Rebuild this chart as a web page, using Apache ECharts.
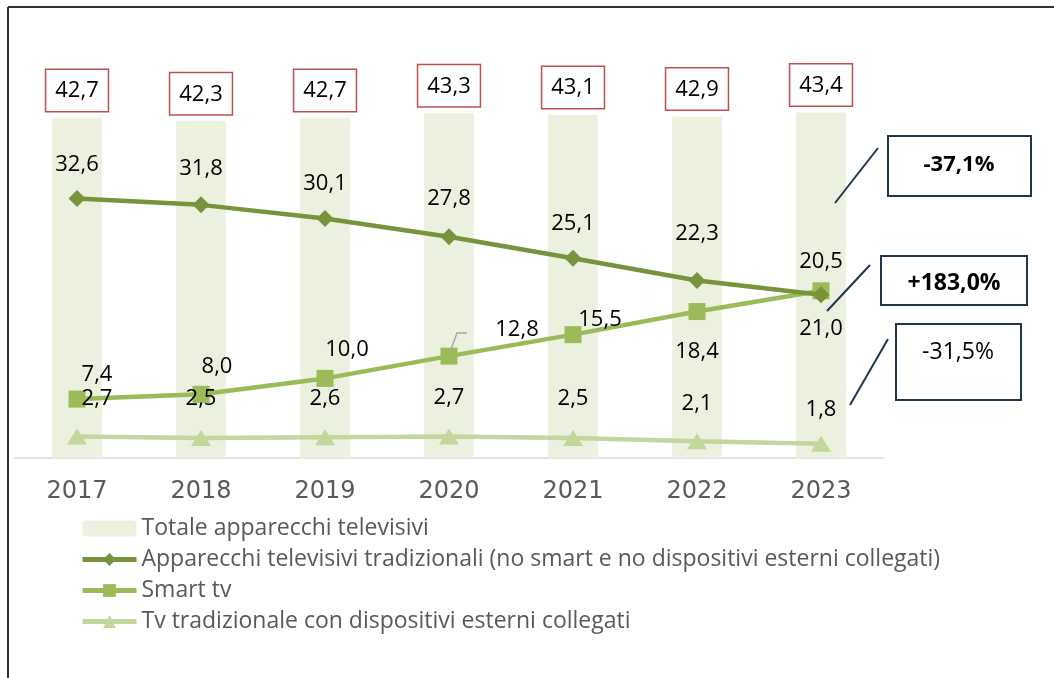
<!DOCTYPE html>
<html>
<head>
<meta charset="utf-8">
<script src="https://cdn.jsdelivr.net/npm/echarts@6/dist/echarts.min.js"></script>
<style>html,body{margin:0;padding:0;background:#fff;}#c{width:1054px;height:678px;}</style>
</head>
<body>
<div id="c"></div>
<script>
var years = ['2017','2018','2019','2020','2021','2022','2023'];
var totale = [42.7, 42.3, 42.7, 43.3, 43.1, 42.9, 43.4];
var tradizionali = [32.6, 31.8, 30.1, 27.8, 25.1, 22.3, 20.5];
var smartTv = [7.4, 8.0, 10.0, 12.8, 15.5, 18.4, 21.0];
var tvDispositivi = [2.7, 2.5, 2.6, 2.7, 2.5, 2.1, 1.8];
var seriesNames = ['Totale apparecchi televisivi',
  'Apparecchi televisivi tradizionali (no smart e no dispositivi esterni collegati)',
  'Smart tv',
  'Tv tradizionale con dispositivi esterni collegati'];
var variazioni = ['-37,1%', '+183,0%', '-31,5%'];

// label offsets (style, not data)
var offTrad = [[0,-34],[0,-36],[0,-35],[0,-38],[0,-34],[0,-47],[0,-33]];
var offSmart = [[20,-24],[16,-28],[22,-29],[68,-26],[27,-15],[0,40],[0,38]];
var offTv = [[20,-38],[0,-39],[0,-39],[0,-39],[0,-39],[0,-38],[0,-34]];

var FONT = '"Open Sans", sans-serif';
var C_TRAD = '#77933C', C_SMART = '#9BBB59', C_TV = '#C3D69B', C_BOX = '#1F3550';
function fmt(v){ return v.toFixed(1).replace('.', ','); }
function items(vals, offs){
  return vals.map(function(v,i){
    return {value: v, label: {offset: offs[i]}};
  });
}
var lblBase = {show: true, position: 'inside', color: '#000', fontSize: 22, fontFamily: FONT,
  formatter: function(p){ return fmt(p.value); }};

var chart = echarts.init(document.getElementById('c'));
chart.setOption({
  animation: false,
  backgroundColor: '#fff',
  grid: {left: 15, right: 171, top: 60, bottom: 220},
  xAxis: {
    type: 'category', data: years,
    axisLine: {lineStyle: {color: '#D9D9D9', width: 1.5}},
    axisTick: {show: false},
    axisLabel: {color: '#595959', fontSize: 24, fontFamily: '"DejaVu Sans", sans-serif', margin: 22}
  },
  yAxis: {type: 'value', min: 0, max: 50, show: false, splitLine: {show: false}},
  legend: {
    orient: 'vertical', left: 75, top: 512, itemWidth: 54, itemHeight: 16, itemGap: 8, padding: 5,
    textStyle: {color: '#595959', fontSize: 23, fontFamily: FONT, lineHeight: 23},
    data: [
      {name: seriesNames[0]},
      {name: seriesNames[1], lineStyle: {width: 5, color: C_TRAD}},
      {name: seriesNames[2], lineStyle: {width: 5, color: C_SMART}},
      {name: seriesNames[3], lineStyle: {width: 5, color: C_TV}}
    ]
  },
  series: [
    {name: seriesNames[0], type: 'bar', data: totale, barWidth: '40%',
     itemStyle: {color: '#EBF1DE'},
     label: {show: true, position: 'top', distance: 7, color: '#000', fontSize: 22, fontFamily: FONT,
       lineHeight: 28, borderColor: '#C0504D', borderWidth: 1.5, padding: [7, 9, 6, 9], backgroundColor: '#fff',
       formatter: function(p){ return fmt(p.value); }}},
    {name: seriesNames[1], type: 'line', data: items(tradizionali, offTrad),
     symbol: 'diamond', symbolSize: 17, lineStyle: {color: C_TRAD, width: 4.5},
     itemStyle: {color: C_TRAD}, label: lblBase, z: 4},
    {name: seriesNames[2], type: 'line', data: items(smartTv, offSmart),
     symbol: 'rect', symbolSize: 17, lineStyle: {color: C_SMART, width: 4.5},
     itemStyle: {color: C_SMART}, label: lblBase, z: 3},
    {name: seriesNames[3], type: 'line', data: items(tvDispositivi, offTv),
     symbol: 'triangle', symbolSize: [20, 16], lineStyle: {color: C_TV, width: 4.5},
     itemStyle: {color: C_TV}, label: lblBase, z: 5}
  ],
  graphic: [
    {type: 'line', z: 10, shape: {x1: 8, y1: 7, x2: 1054, y2: 7}, style: {stroke: '#333', lineWidth: 2}},
    {type: 'line', z: 10, shape: {x1: 8, y1: 7, x2: 8, y2: 678}, style: {stroke: '#333', lineWidth: 2}},
    {type: 'polyline', z: 10, shape: {points: [[450, 352], [457, 333], [467, 333]]}, style: {stroke: '#A6A6A6', lineWidth: 1.5, fill: 'none'}},
    {type: 'line', z: 10, shape: {x1: 878, y1: 148, x2: 835, y2: 203}, style: {stroke: C_BOX, lineWidth: 2}},
    {type: 'line', z: 10, shape: {x1: 870, y1: 265, x2: 827, y2: 311}, style: {stroke: C_BOX, lineWidth: 2}},
    {type: 'line', z: 10, shape: {x1: 888, y1: 339, x2: 850, y2: 405}, style: {stroke: C_BOX, lineWidth: 2}},
    {type: 'rect', z: 10, shape: {x: 888, y: 136, width: 143, height: 60}, style: {stroke: C_BOX, lineWidth: 2, fill: '#fff'}},
    {type: 'rect', z: 10, shape: {x: 881, y: 256, width: 146, height: 49}, style: {stroke: C_BOX, lineWidth: 2, fill: '#fff'}},
    {type: 'rect', z: 10, shape: {x: 896, y: 324, width: 125, height: 76}, style: {stroke: C_BOX, lineWidth: 2, fill: '#fff'}},
    {type: 'text', z: 11, x: 959, y: 165, style: {text: variazioni[0], fill: '#000', font: 'bold 22px "Open Sans", sans-serif', textAlign: 'center', textVerticalAlign: 'middle'}},
    {type: 'text', z: 11, x: 954, y: 283, style: {text: variazioni[1], fill: '#000', font: 'bold 23px "Open Sans", sans-serif', textAlign: 'center', textVerticalAlign: 'middle'}},
    {type: 'text', z: 11, x: 958, y: 352, style: {text: variazioni[2], fill: '#000', font: '23px "Open Sans", sans-serif', textAlign: 'center', textVerticalAlign: 'middle'}}
  ]
});
</script>
</body>
</html>
